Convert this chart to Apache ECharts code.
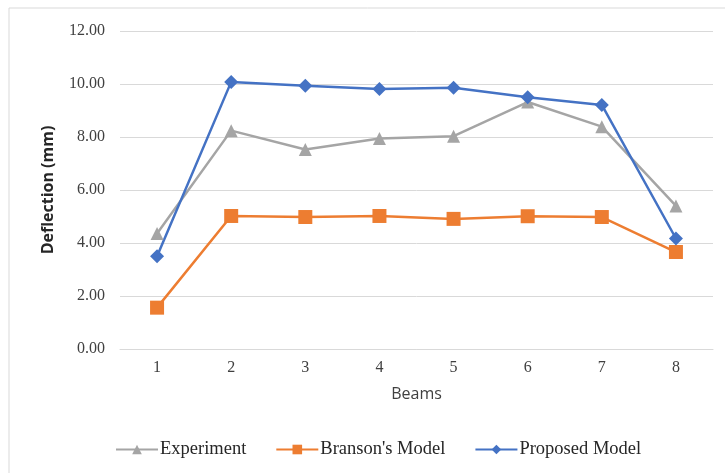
<!DOCTYPE html>
<html><head><meta charset="utf-8">
<script src="https://cdn.jsdelivr.net/npm/echarts@6/dist/echarts.min.js"></script>
<style>html,body{margin:0;padding:0;background:#fff}#c{width:725px;height:473px}</style>
</head><body><div id="c"></div>
<script>
const categories = ['1','2','3','4','5','6','7','8'];
const experiment = [4.36, 8.24, 7.53, 7.94, 8.03, 9.32, 8.39, 5.40];
const branson = [1.56, 5.02, 4.98, 5.02, 4.91, 5.01, 4.98, 3.66];
const proposed = [3.50, 10.08, 9.93, 9.81, 9.86, 9.50, 9.21, 4.17];
const seriesNames = ['Experiment', "Branson's Model", 'Proposed Model'];

const chart = echarts.init(document.getElementById('c'));
const serif = '"Liberation Serif", "Times New Roman", serif';
const sans = '"Open Sans", "Liberation Sans", sans-serif';
function mk(name, data, color, symbol, size) {
  return {
    name, type: 'line', data, symbol, symbolSize: size,
    lineStyle: { color, width: 2.5 }, itemStyle: { color },
    animation: false
  };
}
chart.setOption({
  animation: false,
  graphic: [{
    type: 'rect', shape: { x: 9, y: 8, width: 740, height: 500 },
    style: { fill: 'none', stroke: '#d9d9d9', lineWidth: 1 }, silent: true, z: -1
  }],
  grid: { left: 120, right: 12, top: 31, bottom: 124 },
  legend: {
    bottom: 9, left: 110, itemGap: 29, itemWidth: 42, itemHeight: 12,
    textStyle: { fontFamily: serif, fontSize: 18.5, color: '#262626', padding: [0, 0, 0, -3] },
    data: seriesNames
  },
  xAxis: {
    type: 'category', data: categories, boundaryGap: true,
    name: 'Beams', nameLocation: 'middle', nameGap: 37,
    nameTextStyle: { fontFamily: sans, fontSize: 16, color: '#404040' },
    axisLine: { show: true, lineStyle: { color: '#d9d9d9', width: 1 } },
    axisTick: { show: false },
    axisLabel: { fontFamily: serif, fontSize: 16, color: '#404040', margin: 11 }
  },
  yAxis: {
    type: 'value', min: 0, max: 12, interval: 2,
    name: 'Deflection (mm)', nameLocation: 'middle', nameGap: 64,
    nameTextStyle: { fontFamily: sans, fontSize: 16, fontWeight: 'bold', color: '#262626' },
    axisLine: { show: false }, axisTick: { show: false },
    splitLine: { lineStyle: { color: '#d9d9d9', width: 1 } },
    axisLabel: { fontFamily: serif, fontSize: 16, color: '#404040', margin: 15,
      formatter: v => v.toFixed(2) }
  },
  series: [
    mk(seriesNames[0], experiment, '#A5A5A5', 'triangle', 13),
    mk(seriesNames[1], branson, '#ED7D31', 'rect', 14),
    mk(seriesNames[2], proposed, '#4472C4', 'diamond', 14)
  ]
});
</script></body></html>
